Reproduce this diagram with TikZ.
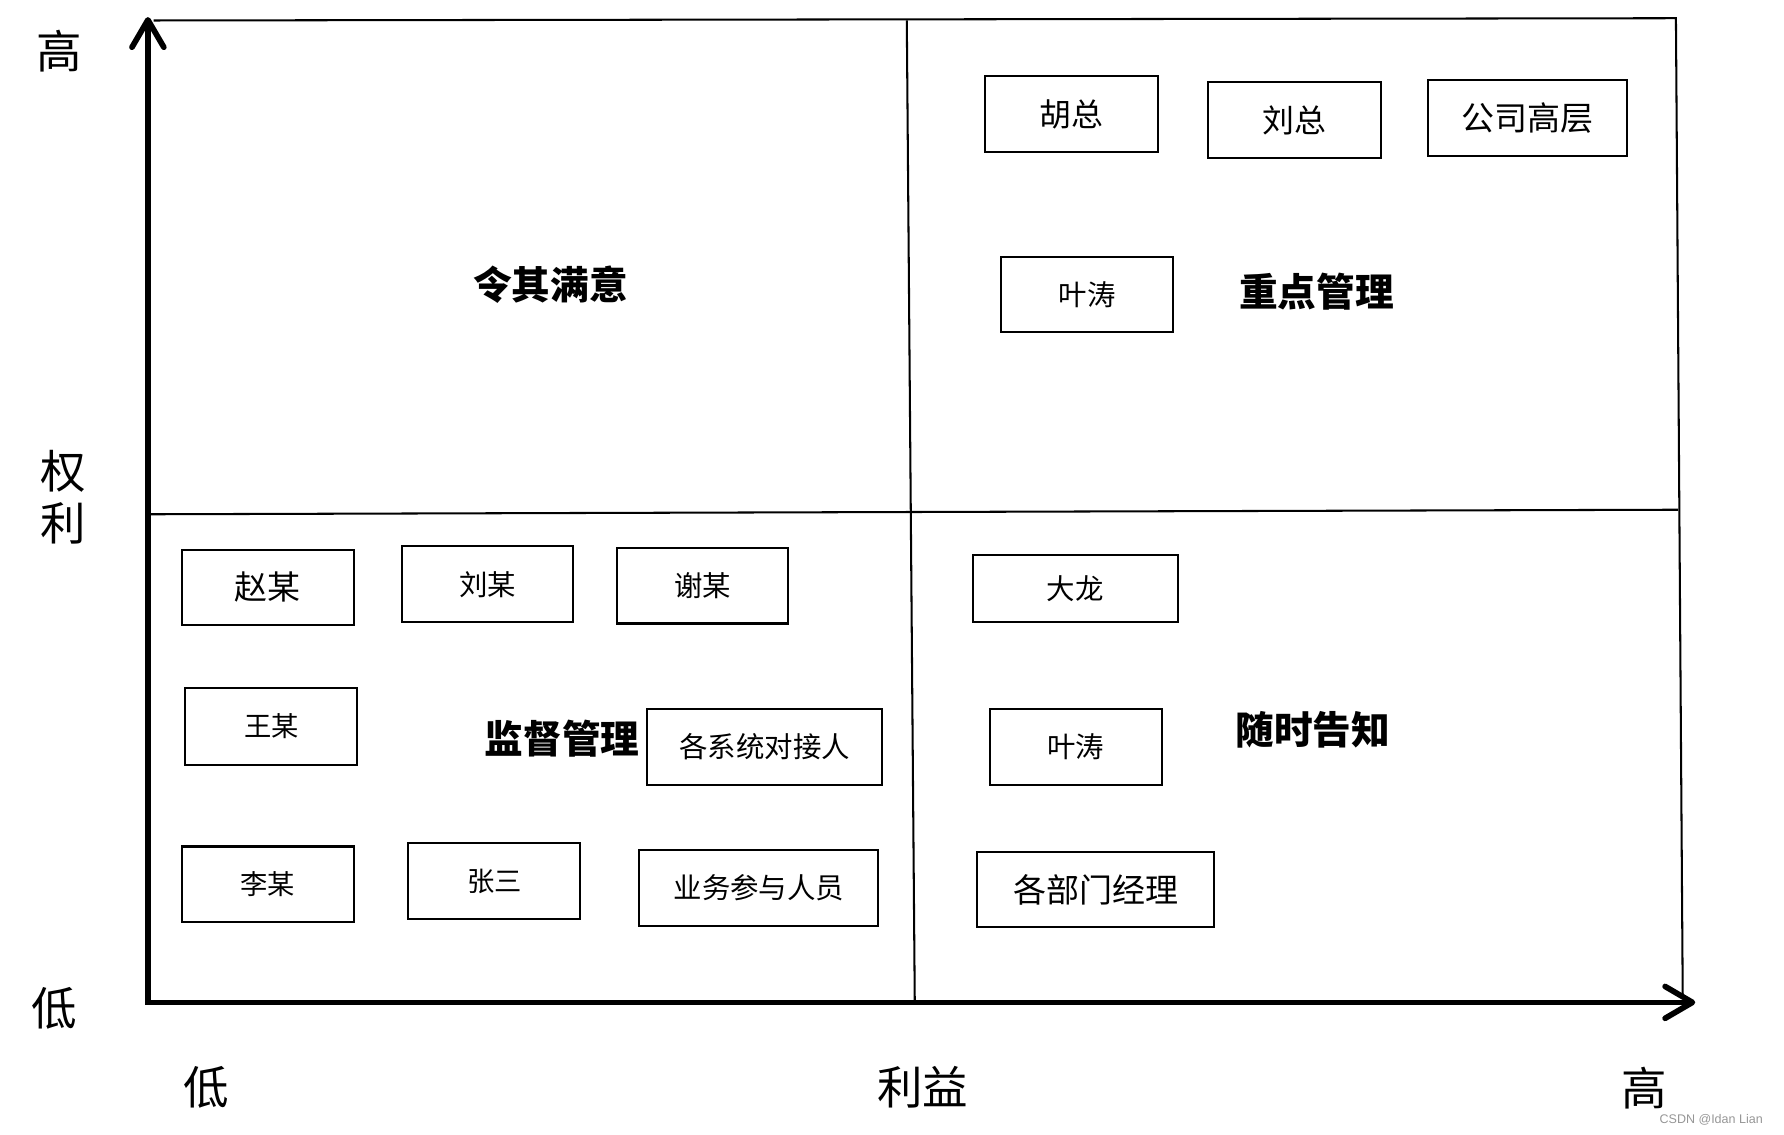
\documentclass[tikz,border=0pt]{standalone}
\usepackage{fontspec}
\setmainfont{Noto Sans CJK SC}
\newfontfamily\markfont{Liberation Sans}
\usepackage{xcolor}
\usepackage{tikz}
\usetikzlibrary{arrows.meta}
\definecolor{markgray}{RGB}{150,150,150}

\tikzset{
  box/.style={draw, line width=1.8pt, inner sep=0pt},
  grid/.style={line width=1.8pt},
  axis/.style={line width=5pt, line join=miter},
  axistip/.tip={Straight Barb[length=24pt, width=28pt, round]},
  title/.style={font=\fontsize{34}{40}\selectfont\bfseries},
  axislabel/.style={font=\fontsize{40}{46}\selectfont},
}

\begin{document}
\begin{tikzpicture}[x=1pt, y=-1pt]
  \useasboundingbox (0,0) rectangle (1568,997);
  % quadrant lines
  \draw[grid] (135,18) -- (1473,16) -- (1479,878);
  \draw[grid] (130,452) -- (1475,448);
  \draw[grid] (797,18) -- (804,880);
  % axes
  \draw[axis, axistip-axistip] (130,15) -- (130,881) -- (1490,881);
  % axis labels
  \node[axislabel] (yhigh) at (52,45) {高};
  \node[axislabel, align=center] (power) at (56,437) {权\\利};
  \node[axislabel] (ylow) at (48,886) {低};
  \node[axislabel] (xlow) at (181,956) {低};
  \node[axislabel] (interest) at (811,956) {利益};
  \node[axislabel] (xhigh) at (1445,956) {高};
  % quadrant titles
  \node[title] (satisfy) at (484,250) {令其满意};
  \node[title] (manage) at (1157,256) {重点管理};
  \node[title] (monitor) at (494,649) {监督管理};
  \node[title] (inform) at (1154,641) {随时告知};
  % people
  \foreach \n/\x/\y/\w/\h/\s/\t in {
      hu/942/100.5/152/67/28/胡总, liuzong/1138/105.5/152/67/28/刘总,
      boss/1342.5/103.5/175/67/29/公司高层, yeA/955.5/259/151/66/25/叶涛,
      zhao/235.5/516/151/66/29/赵某, liumou/428.5/513.5/151/67/25/刘某,
      xie/617.5/515/151/66/25/谢某, wang/238.5/638.5/151/67/24/王某,
      contact/672/656.5/206/67/25/各系统对接人, li/235.5/777/151/66/24/李某,
      zhang/434.5/774.5/151/67/24/张三, staff/667/780.5/210/67/25/业务参与人员,
      dalong/945/517.5/180/59/25/大龙, yeB/945.5/656.5/151/67/25/叶涛,
      dept/963/782/208/66/29/各部门经理}
    \node[box, minimum width=\w pt, minimum height=\h pt,
          font=\fontsize{\s}{\s}\selectfont] (\n) at (\x,\y) {\t};
  % watermark
  \node[font=\markfont\fontsize{11}{12}\selectfont, text=markgray] (mark) at (1504,984) {CSDN @Idan Lian};
\end{tikzpicture}
\end{document}
